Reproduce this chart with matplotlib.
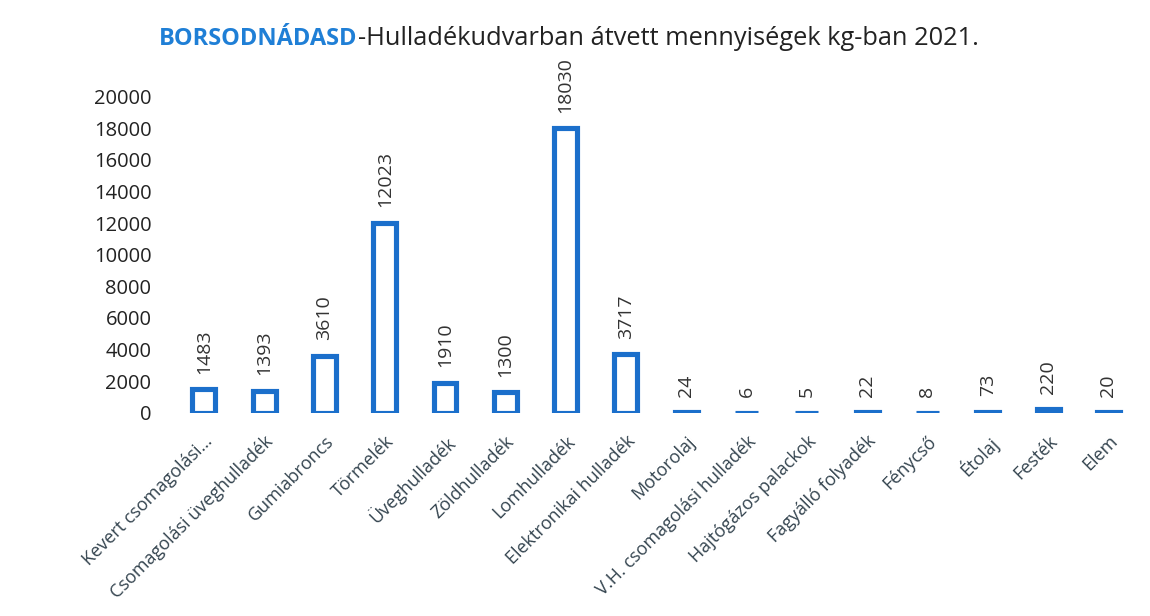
import matplotlib.pyplot as plt

plt.rcParams['font.family'] = ['Open Sans', 'DejaVu Sans']

# waste categories and amounts (kg, 2021)
categories = ['Kevert csomagolási…', 'Csomagolási üveghulladék', 'Gumiabroncs',
              'Törmelék', 'Üveghulladék', 'Zöldhulladék', 'Lomhulladék',
              'Elektronikai hulladék', 'Motorolaj', 'V.H. csomagolási hulladék',
              'Hajtógázos palackok', 'Fagyálló folyadék', 'Fénycső', 'Étolaj',
              'Festék', 'Elem']
amounts = [1483, 1393, 3610, 12023, 1910, 1300, 18030, 3717,
           24, 6, 5, 22, 8, 73, 220, 20]
yticks = list(range(0, 20001, 2000))

blue = '#1b6fcb'
text_col = '#333333'

fig = plt.figure(figsize=(11.5, 6.16), dpi=100)
ax = fig.add_axes([0.151, 0.330, 0.839, 0.513])

x = range(len(categories))
ax.bar(x, amounts, width=0.38, facecolor='white', edgecolor=blue, linewidth=3.7)

for i, v in zip(x, amounts):
    ax.annotate(str(v), (i, v), xytext=(0, 11), textcoords='offset points',
                rotation=90, ha='center', va='bottom', fontsize=14,
                color=text_col)

ax.set_xlim(-0.5, len(categories) - 0.5)
ax.set_ylim(0, 20000)
ax.set_yticks(yticks)
ax.set_yticklabels([str(t) for t in yticks], fontsize=14.5, color='#222222')
ax.set_xticks(list(x))
ax.set_xticklabels(categories, rotation=45, ha='right', rotation_mode='anchor',
                   fontsize=13, color='#34444f')
ax.tick_params(axis='both', length=0)
ax.tick_params(axis='x', pad=14)
ax.tick_params(axis='y', pad=16)
for s in ax.spines.values():
    s.set_visible(False)

# title in two pieces: bold blue town name + plain rest
fig.text(0.311, 0.937, 'BORSODNÁDASD', ha='right', va='center',
         fontsize=17, fontweight='bold', color='#1f7fd6')
fig.text(0.311, 0.937, '-Hulladékudvarban átvett mennyiségek kg-ban 2021.',
         ha='left', va='center', fontsize=18.3, color='#222222')

fig.savefig('out.png', dpi=100)
